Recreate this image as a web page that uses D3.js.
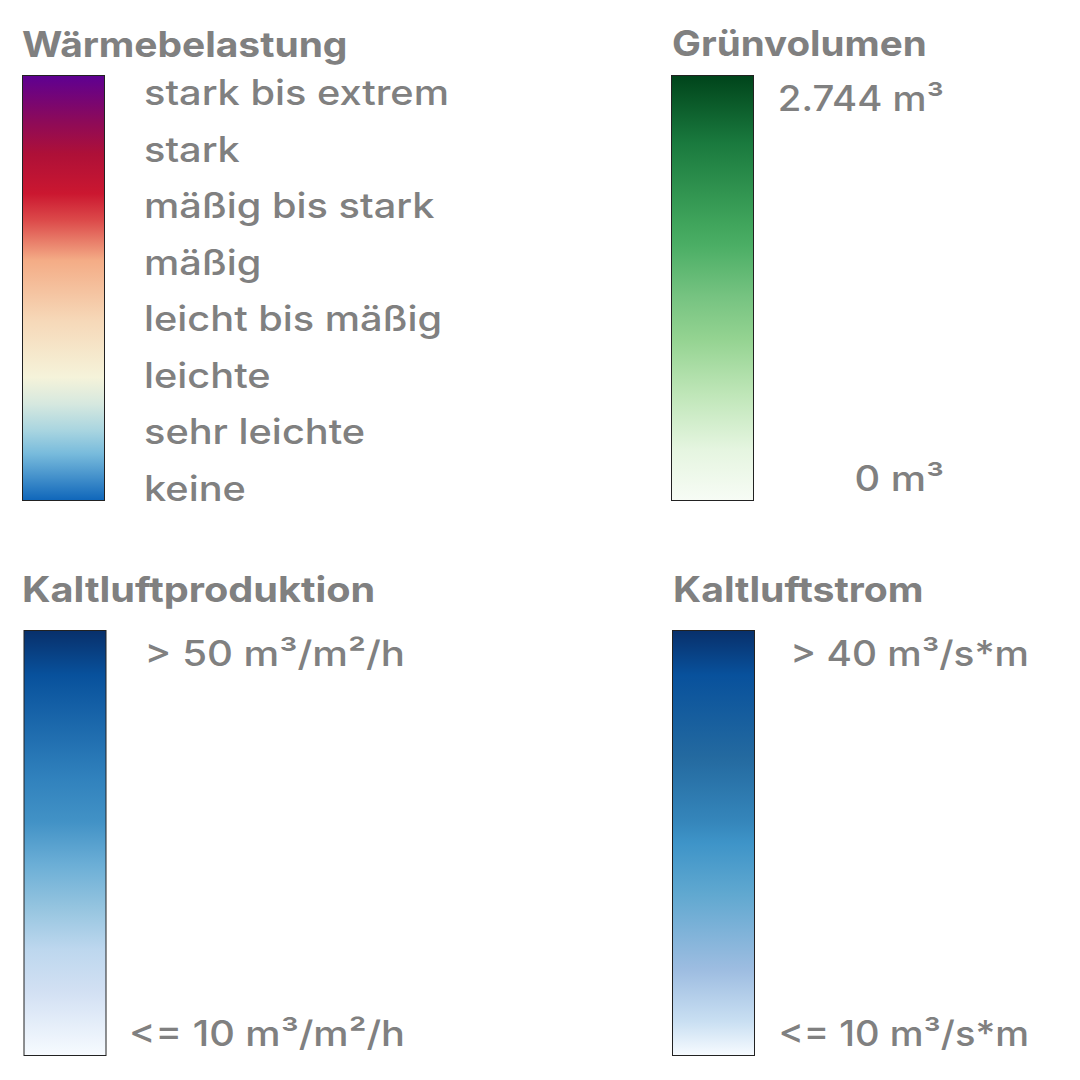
<!DOCTYPE html>
<html><head><meta charset="utf-8">
<script src="https://cdn.jsdelivr.net/npm/d3@7"></script>
<style>html,body{margin:0;padding:0;background:#fff}svg{display:block}
text{font-family:"Inter","Open Sans",sans-serif;fill:#808080}
.t{font-weight:700;font-size:35px}.l{font-weight:500;font-size:35px}</style></head>
<body><script>
const titles=["Wärmebelastung","Grünvolumen","Kaltluftproduktion","Kaltluftstrom"];
const heatLabels=["stark bis extrem","stark","mäßig bis stark","mäßig","leicht bis mäßig","leichte","sehr leichte","keine"];
const heatStops=[0,.106,.184,.278,.341,.435,.576,.71,.773,.835,.89,1];
const heatColors=["#5e0092","#8c0a5a","#ae1038","#cb1730","#dc4a4a","#f4ac86","#f6d8b8","#f5f3da","#d6e8df","#a9d5e0","#78bbdc","#0f66ba"];
const greenStops=[0,.16,.35,.4,.52,.62,.75,.88,1];
const greenColors=["#00441b","#1a7a3e","#40a55c","#4bae65","#76c381","#94d391","#bfe6b8","#e5f5e0","#f7fcf5"];
const prodStops=[0,.105,.35,.45,.55,.65,.75,.85,1];
const prodColors=["#08306b","#08519c","#3182bd","#4292c6","#6baed6","#94c4df","#bdd7ee","#d2e0f3","#f7fbff"];
const flowStops=[0,.105,.3,.45,.5,.62,.8,.92,1];
const flowColors=["#08306b","#08519c","#246aa0","#3586bb","#3e94c8","#60a8d0","#9ebde1","#c9dff2","#f7fbff"];

const svg=d3.select("body").append("svg").attr("width",1080).attr("height",1080);
const defs=svg.append("defs");
const barW=82,barH=425,wideL=1.135;
function bar(i,x,y,stops,colors){
  const yS=d3.scaleLinear().domain([0,1]).range([y,y+barH]);
  const g=defs.append("linearGradient").attr("id","g"+i).attr("x1",0).attr("x2",0).attr("y1",0).attr("y2",1);
  g.selectAll("stop").data(stops).join("stop").attr("offset",d=>d).attr("stop-color",(d,j)=>colors[j]);
  svg.append("rect").attr("x",x).attr("y",yS(0)).attr("width",barW).attr("height",yS(1)-yS(0))
    .attr("fill",`url(#g${i})`).attr("stroke","#222").attr("stroke-width",1);
}
function title(s,x,y,k){svg.append("text").attr("class","t").attr("transform",`translate(${x},${y}) scale(${k},1)`).text(s);}
function right(s,x,y,k){svg.append("text").attr("class","l").attr("transform",`translate(${x},${y}) scale(${k},1)`).attr("text-anchor","end").text(s);}

title(titles[0],22,57,1.112);title(titles[1],672,56,1.102);title(titles[2],22,602,1.134);title(titles[3],673,602,1.119);
bar(0,22.5,75.5,heatStops,heatColors);
bar(1,671.5,75.5,greenStops,greenColors);
bar(2,24,630.5,prodStops,prodColors);
bar(3,672.5,630.5,flowStops,flowColors);

const yL=d3.scalePoint().domain(heatLabels).range([105,501]);
svg.selectAll(".hl").data(heatLabels).join("text").attr("class","l hl")
  .attr("transform",d=>`translate(144,${yL(d)}) scale(${wideL},1)`).text(d=>d);

right("2.744 m³",944,111,1.095);right("0 m³",944,491,1.135);
right("> 50 m³/m²/h",405,666,1.148);right("<= 10 m³/m²/h",405,1046,1.135);
right("> 40 m³/s*m",1029,666,1.107);right("<= 10 m³/s*m",1029,1046,1.087);
</script></body></html>
